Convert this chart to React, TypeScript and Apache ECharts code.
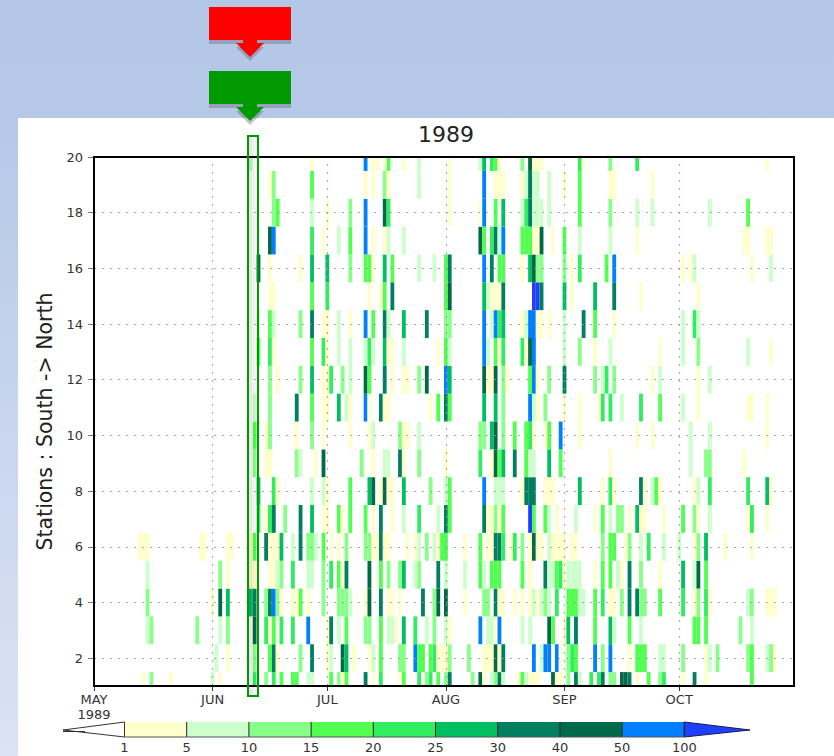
import React, { useEffect, useRef } from "react";
import * as echarts from "echarts";

const monthTicks = [0, 31, 61, 92, 123, 153];
const monthNames = ["MAY\n1989", "JUN", "JUL", "AUG", "SEP", "OCT"];
const stationTicks = [2, 4, 6, 8, 10, 12, 14, 16, 18, 20];
const legendLabels = ["1", "5", "10", "15", "20", "25", "30", "40", "50", "100"];
const legendColors = ["#ffffcc", "#ccffcc", "#88ff88", "#50ff50", "#30ee60", "#00bf60", "#008060", "#006a48", "#0080ff"];
const overColor = "#2040ff";
const thresholds = [1, 5, 10, 15, 20, 25, 30, 40, 50, 100];

type Cell = [number, number];
const station20: Cell[] = [[41,7],[57,3],[71,70],[73,3],[74,3],[76,3],[77,17],[81,3],[85,7],[93,3],[101,7],[102,27],[104,22],[105,17],[106,3],[112,12],[114,45],[115,3],[116,3],[117,3],[127,22],[128,3],[135,12],[142,22],[176,3]];
const station19: Cell[] = [[46,3],[47,12],[57,17],[71,3],[73,3],[76,12],[77,3],[85,7],[93,3],[102,70],[105,3],[106,3],[107,3],[112,3],[113,7],[114,35],[115,7],[116,7],[119,7],[123,3],[127,17],[135,3],[136,3],[146,3]];
const station18: Cell[] = [[47,12],[48,17],[57,7],[61,3],[67,12],[71,70],[76,45],[77,22],[93,3],[101,3],[102,70],[105,17],[107,27],[112,7],[113,22],[114,35],[115,7],[116,7],[117,7],[119,7],[127,17],[135,12],[142,7],[146,7],[161,7],[171,17]];
const station17: Cell[] = [[46,45],[47,70],[57,22],[60,3],[64,7],[67,17],[71,70],[73,3],[76,3],[77,7],[81,7],[101,45],[102,17],[104,22],[105,35],[106,7],[107,70],[112,17],[113,17],[114,17],[115,3],[116,3],[117,45],[120,3],[123,17],[127,7],[135,7],[142,3],[170,3],[171,3],[176,3],[177,3]];
const station16: Cell[] = [[43,45],[46,3],[54,3],[57,27],[61,27],[67,12],[71,17],[72,17],[73,3],[76,27],[78,17],[85,7],[89,7],[92,17],[93,35],[102,70],[104,35],[106,17],[107,17],[112,3],[114,27],[115,45],[116,12],[117,12],[123,12],[125,3],[127,22],[134,17],[136,70],[154,3],[156,3],[157,7],[172,3],[177,7]];
const station15: Cell[] = [[46,3],[47,3],[57,17],[61,22],[72,3],[75,3],[76,17],[78,35],[92,17],[93,45],[102,27],[103,7],[104,3],[105,3],[106,3],[107,35],[115,120],[116,120],[117,35],[123,27],[125,3],[131,27],[136,35],[143,3],[158,3]];
const station14: Cell[] = [[43,7],[46,17],[47,7],[54,12],[57,35],[60,3],[61,3],[64,7],[67,3],[71,70],[73,17],[76,35],[77,7],[81,27],[87,35],[92,12],[93,12],[102,70],[104,7],[105,70],[106,22],[107,27],[112,3],[113,7],[114,70],[115,70],[116,3],[117,3],[119,3],[123,7],[128,35],[131,17],[136,3],[154,7],[157,22],[158,7]];
const station13: Cell[] = [[43,17],[46,22],[47,3],[57,17],[60,22],[61,3],[64,7],[67,7],[71,7],[72,22],[73,7],[76,27],[77,3],[78,3],[81,7],[90,3],[92,17],[93,7],[102,70],[103,7],[105,17],[106,3],[107,22],[112,22],[113,3],[114,45],[115,70],[123,7],[127,12],[131,3],[135,7],[148,3],[154,7],[158,12],[171,7],[177,3]];
const station12: Cell[] = [[46,12],[48,3],[54,12],[57,27],[60,3],[61,3],[62,22],[65,12],[67,7],[71,45],[72,17],[76,35],[78,3],[81,3],[82,3],[85,12],[87,45],[92,70],[93,27],[102,45],[103,3],[104,3],[105,45],[107,12],[108,3],[114,17],[115,70],[116,3],[119,12],[123,35],[131,12],[133,7],[134,22],[136,12],[146,3],[148,7],[158,3],[161,7]];
const station11: Cell[] = [[42,7],[46,12],[53,35],[57,17],[60,3],[61,3],[64,27],[66,7],[67,3],[71,70],[72,3],[75,35],[76,3],[77,3],[88,3],[90,17],[92,35],[93,17],[102,27],[105,27],[107,12],[114,70],[115,7],[116,3],[118,12],[123,3],[127,3],[132,3],[133,22],[135,22],[138,7],[143,22],[148,17],[154,7],[158,3],[171,3],[172,3],[176,3]];
const station10: Cell[] = [[42,17],[45,3],[46,12],[53,3],[57,12],[60,3],[67,3],[72,3],[73,7],[80,12],[81,3],[82,3],[85,7],[101,12],[102,12],[104,27],[105,45],[107,12],[110,17],[113,17],[114,22],[115,3],[118,3],[119,17],[122,70],[127,3],[142,3],[146,3],[156,7],[161,7],[176,3]];
const station9: Cell[] = [[42,12],[45,3],[46,3],[53,12],[54,7],[58,3],[60,45],[70,12],[73,3],[76,7],[77,7],[80,35],[81,3],[85,12],[92,3],[101,22],[104,3],[105,45],[106,17],[107,27],[110,35],[113,17],[114,7],[115,7],[119,27],[122,17],[135,3],[156,7],[160,12],[161,12],[170,3]];
const station8: Cell[] = [[43,27],[47,22],[48,3],[57,7],[60,7],[61,3],[67,17],[72,27],[73,45],[75,3],[76,45],[77,3],[78,3],[81,27],[88,12],[92,7],[93,17],[102,70],[105,7],[106,7],[107,7],[112,3],[113,35],[114,35],[115,35],[118,3],[119,3],[120,3],[127,27],[133,3],[135,22],[136,3],[143,35],[144,3],[146,7],[147,17],[148,3],[157,3],[158,7],[161,22],[171,22],[176,27],[177,3]];
const station7: Cell[] = [[43,22],[45,3],[46,22],[47,35],[50,12],[54,35],[57,27],[60,3],[61,3],[64,17],[65,3],[67,17],[71,17],[73,3],[75,35],[78,3],[81,7],[85,22],[90,7],[92,35],[93,17],[102,35],[103,3],[104,3],[105,12],[106,3],[107,17],[114,120],[115,17],[118,17],[119,7],[121,3],[126,7],[131,3],[133,17],[135,7],[137,12],[138,12],[140,3],[142,27],[143,3],[144,3],[149,3],[154,17],[157,12],[158,3],[161,7],[171,3],[172,22],[176,3]];
const station6: Cell[] = [[12,3],[13,3],[14,3],[28,3],[29,3],[35,3],[36,3],[41,3],[42,17],[45,35],[46,3],[47,3],[48,3],[49,27],[52,7],[54,35],[56,12],[57,12],[58,7],[60,17],[62,3],[64,3],[66,12],[71,12],[72,12],[73,3],[74,3],[75,35],[76,3],[77,3],[82,3],[84,3],[85,7],[87,12],[89,7],[90,3],[91,17],[92,17],[97,3],[101,17],[103,3],[104,3],[105,35],[106,35],[107,22],[109,3],[110,22],[112,12],[114,3],[115,45],[116,3],[117,3],[119,7],[120,3],[121,3],[122,3],[123,3],[125,3],[126,3],[133,12],[135,17],[136,17],[139,3],[140,12],[143,7],[145,22],[149,7],[153,7],[157,3],[158,12],[160,27],[165,3],[172,3]];
const station5: Cell[] = [[14,7],[33,12],[35,3],[41,3],[42,3],[46,3],[47,3],[48,7],[49,12],[52,22],[56,7],[57,7],[60,12],[62,22],[64,17],[65,3],[66,35],[72,45],[75,17],[77,12],[80,12],[81,27],[84,7],[85,12],[90,35],[92,7],[97,7],[101,17],[102,7],[104,17],[105,17],[106,17],[112,17],[114,3],[118,35],[119,7],[120,7],[121,17],[122,22],[123,3],[124,7],[125,7],[126,7],[127,7],[131,3],[133,17],[135,17],[137,7],[138,3],[140,35],[143,12],[148,3],[154,27],[157,7],[158,45],[160,17]];
const station4: Cell[] = [[14,12],[31,3],[33,45],[35,27],[41,27],[42,35],[45,12],[46,35],[47,70],[48,12],[49,3],[52,3],[53,3],[54,17],[56,3],[60,12],[64,12],[65,12],[66,12],[67,7],[71,3],[72,45],[75,35],[77,3],[78,3],[80,3],[86,35],[89,12],[90,45],[92,45],[97,3],[102,12],[103,12],[105,35],[106,3],[107,3],[110,3],[112,3],[114,3],[115,7],[116,3],[117,7],[118,12],[119,7],[121,22],[124,17],[125,17],[126,17],[127,7],[128,7],[131,17],[133,22],[135,3],[136,3],[138,12],[140,35],[142,35],[143,12],[144,12],[148,17],[154,22],[157,3],[158,12],[160,22],[161,3],[171,7],[172,12],[176,3],[177,3],[178,3]];
const station3: Cell[] = [[14,7],[15,12],[27,12],[33,7],[35,12],[42,45],[45,22],[46,3],[47,17],[49,22],[52,22],[56,70],[61,3],[62,35],[64,7],[66,17],[71,12],[72,12],[75,17],[77,7],[78,7],[79,3],[81,27],[84,22],[87,7],[89,12],[92,7],[93,3],[101,70],[103,7],[104,7],[105,3],[106,70],[112,7],[114,7],[119,45],[120,17],[123,3],[124,27],[126,35],[131,17],[135,27],[136,7],[140,17],[143,7],[157,17],[158,17],[160,17],[169,12],[172,7]];
const station2: Cell[] = [[32,7],[35,3],[42,12],[46,17],[47,35],[48,3],[54,12],[57,35],[61,3],[62,7],[65,45],[66,27],[68,3],[72,3],[73,7],[75,17],[80,12],[81,12],[84,70],[85,17],[86,17],[88,17],[89,22],[90,3],[91,3],[92,3],[93,12],[98,12],[102,3],[103,3],[104,3],[105,45],[106,3],[107,35],[115,70],[117,7],[118,70],[119,70],[121,70],[122,3],[124,12],[125,22],[126,17],[131,70],[133,12],[135,70],[140,3],[142,17],[143,17],[144,17],[148,7],[149,7],[154,12],[160,3],[161,7],[163,12],[171,12],[172,17],[176,7],[177,12],[178,3]];
const station1: Cell[] = [[13,3],[15,12],[20,3],[31,7],[33,3],[42,22],[45,12],[47,22],[49,17],[52,17],[53,17],[56,7],[57,7],[62,17],[64,12],[65,3],[66,17],[71,35],[73,3],[75,22],[80,3],[81,17],[85,22],[87,12],[88,22],[90,17],[92,12],[93,35],[99,12],[101,45],[102,3],[104,7],[105,12],[106,35],[107,7],[111,3],[112,17],[113,7],[114,3],[115,3],[116,3],[120,45],[121,3],[122,3],[124,12],[126,35],[127,7],[130,22],[132,22],[133,35],[135,12],[136,12],[138,45],[139,45],[140,35],[142,3],[145,17],[148,12],[149,22],[154,3],[157,35],[160,3],[172,17]];

const stations: Cell[][] = [station1, station2, station3, station4, station5, station6, station7, station8, station9, station10, station11, station12, station13, station14, station15, station16, station17, station18, station19, station20];
const cells = stations.flatMap((row, i) => row.map(([day, value]) => [day, i + 1, value]));

function colorOf(v: number) {
  for (let i = thresholds.length - 1; i >= 1; i--) {
    if (v >= thresholds[i]) return i === thresholds.length - 1 ? overColor : legendColors[i];
  }
  return legendColors[0];
}

const FONT = "'DejaVu Sans', sans-serif";
const axisText = { color: "#333", fontFamily: FONT, fontSize: 13 };

function buildLegend() {
  const x0 = 124.5, step = 62.2, top = 722, h = 15;
  const out: any[] = [];
  legendColors.forEach((c, i) => {
    out.push({ type: "rect", shape: { x: x0 + i * step, y: top, width: step, height: h }, style: { fill: c } });
  });
  out.push({ type: "polygon", shape: { points: [[x0, top], [x0, top + h], [63, 730]] }, style: { fill: "#fff", stroke: "#333", lineWidth: 1 } });
  out.push({ type: "line", shape: { x1: 63, y1: 731.5, x2: 85, y2: 731.5 }, style: { stroke: "#333", lineWidth: 1 } });
  const xEnd = x0 + legendColors.length * step;
  out.push({ type: "polygon", shape: { points: [[xEnd, top], [xEnd, top + h], [750, 730]] }, style: { fill: overColor, stroke: "#1a1a50", lineWidth: 1 } });
  legendLabels.forEach((t, i) => {
    const x = x0 + i * step;
    if (i > 0) out.push({ type: "line", shape: { x1: x, y1: top, x2: x, y2: top + h }, style: { stroke: "#222", lineWidth: 1 } });
    out.push({ type: "text", x, y: 741, style: { text: t, fill: "#333", font: "13px " + FONT, textAlign: "center", textVerticalAlign: "top" } });
  });
  out.push({ type: "line", shape: { x1: x0, y1: top + h, x2: xEnd, y2: top + h }, style: { stroke: "#555", lineWidth: 1 } });
  return out;
}

function arrow(top: number, color: string) {
  const rect = (dy: number, fill: string) => ({
    type: "polygon", silent: true,
    shape: { points: [[209, top + dy], [291, top + dy], [291, top + 33 + dy], [257, top + 33 + dy], [257, top + 36 + dy], [264, top + 36 + dy], [250, top + 50 + dy], [236, top + 36 + dy], [243, top + 36 + dy], [243, top + 33 + dy], [209, top + 33 + dy]] },
    style: { fill },
  });
  return [rect(4, "rgba(90,90,100,0.35)"), rect(0, color)];
}

export default function App() {
  const ref = useRef<HTMLDivElement>(null);
  useEffect(() => {
    document.body.style.margin = "0";
    const chart = echarts.init(ref.current!, undefined, { renderer: "svg" });
    chart.setOption({
      animation: false,
      backgroundColor: {
        type: "linear", x: 0, y: 0, x2: 0, y2: 1,
        colorStops: [{ offset: 0, color: "#b4c7e7" }, { offset: 0.15, color: "#b5c8e8" }, { offset: 1, color: "#dbe3f4" }],
      },
      title: {
        text: "1989", left: 441, top: 118, textAlign: "center",
        textStyle: { color: "#222", fontFamily: FONT, fontSize: 22, fontWeight: "normal" },
      },
      grid: { left: 94, top: 157, width: 700, height: 529, show: true, borderColor: "#000", borderWidth: 2, z: 4 },
      xAxis: {
        type: "value", min: 0, max: 183, splitLine: { show: false },
        axisLine: { show: false },
        axisTick: { show: true, length: 5, customValues: monthTicks, lineStyle: { color: "#333" } },
        axisLabel: {
          ...axisText, margin: 6, lineHeight: 15, hideOverlap: false, customValues: monthTicks,
          formatter: (v: number) => monthNames[monthTicks.indexOf(v)] ?? "",
        },
      },
      yAxis: {
        type: "value", min: 1, max: 20, splitLine: { show: false },
        axisLine: { show: false },
        axisTick: { show: true, length: 6, customValues: stationTicks, lineStyle: { color: "#777" } },
        axisLabel: { ...axisText, margin: 11, customValues: stationTicks },
        name: "Stations : South -> North", nameLocation: "middle", nameGap: 39, nameRotate: 90,
        nameTextStyle: { color: "#222", fontFamily: FONT, fontSize: 20.5 },
      },
      series: [
        {
          type: "custom", data: cells, clip: true, silent: true, z: 2,
          encode: { x: 0, y: 1 },
          renderItem: (_: any, api: any) => {
            const d = api.value(0), s = api.value(1);
            const a = api.coord([d - 0.5, s + 0.5]);
            const b = api.coord([d + 0.5, s - 0.5]);
            return { type: "rect", shape: { x: a[0], y: a[1], width: b[0] - a[0], height: b[1] - a[1] }, style: { fill: colorOf(api.value(2)) } };
          },
          markLine: {
            silent: true, symbol: "none", label: { show: false }, animation: false, z: 3,
            lineStyle: { color: "rgba(150,150,150,0.8)", type: [2, 6], width: 1.2 },
            data: [
              ...monthTicks.slice(1).map((x) => ({ xAxis: x })),
              ...stationTicks.slice(0, -1).map((y) => ({ yAxis: y })),
            ],
          },
        },
      ],
      graphic: [
        { type: "rect", z: -10, shape: { x: 18, y: 118, width: 816, height: 638 }, style: { fill: "#fff" } },
        ...arrow(7, "#ff0000"),
        ...arrow(71, "#009900"),
        {
          type: "rect", z: 50, silent: true, shape: { x: 248, y: 136, width: 10, height: 560 },
          style: {
            stroke: "#009900", lineWidth: 2,
            fill: { type: "linear", x: 0, y: 0, x2: 1, y2: 0, colorStops: [{ offset: 0, color: "rgba(0,0,0,0.13)" }, { offset: 1, color: "rgba(0,0,0,0)" }] },
          },
        },
        ...buildLegend(),
      ],
    });
    return () => chart.dispose();
  }, []);
  return <div ref={ref} style={{ position: "absolute", left: 0, top: 0, width: 834, height: 756 }} />;
}
